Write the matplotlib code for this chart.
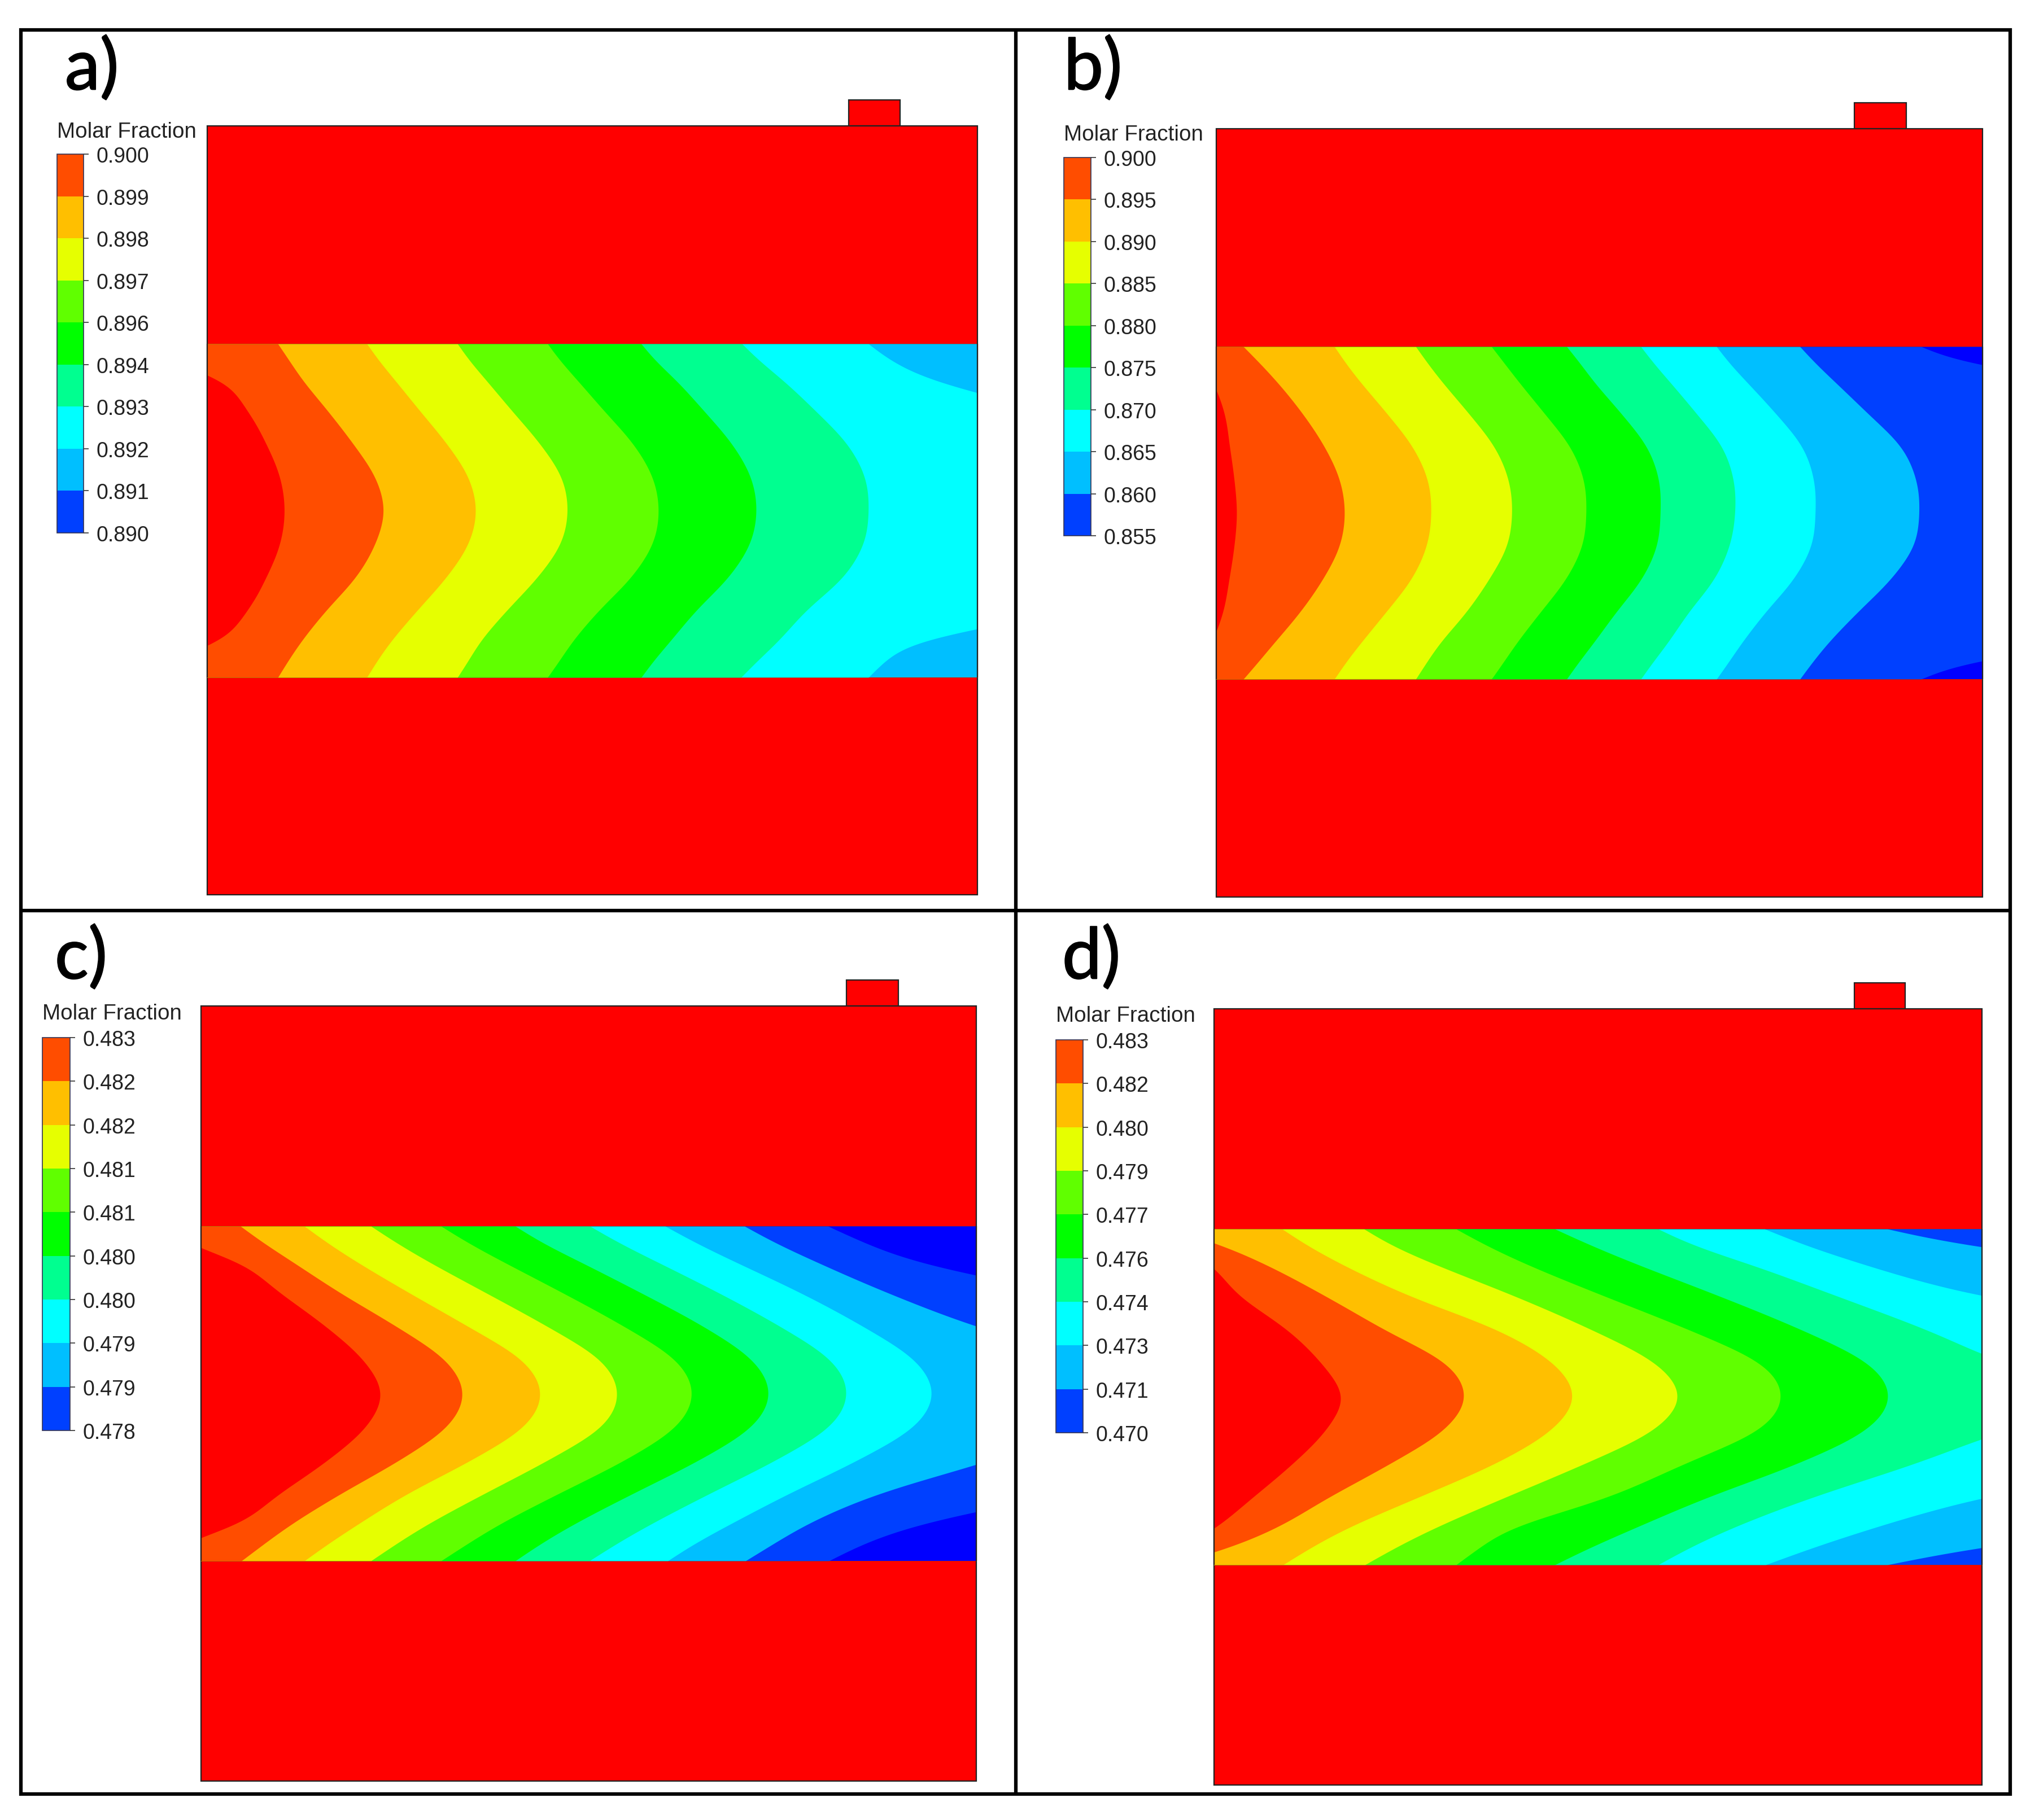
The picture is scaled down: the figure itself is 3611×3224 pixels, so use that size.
import numpy as np
import matplotlib
matplotlib.use('Agg')
import matplotlib.pyplot as plt
import matplotlib.patheffects as pe
from matplotlib.patches import Rectangle

plt.rcParams['font.family'] = ['Liberation Sans', 'DejaVu Sans']

# colores de las bandas, de mayor a menor fraccion molar
RED = '#FF0000'
BANDS = ['#FF4D00', '#FFBF00', '#E6FF00', '#60FF00', '#00FF00',
         '#00FF90', '#00FFFF', '#00BFFF', '#0040FF', '#0000FF']

# etiquetas de las barras de color
TICKS_A = ['0.900', '0.899', '0.898', '0.897', '0.896', '0.894', '0.893', '0.892', '0.891', '0.890']
TICKS_B = ['0.900', '0.895', '0.890', '0.885', '0.880', '0.875', '0.870', '0.865', '0.860', '0.855']
TICKS_C = ['0.483', '0.482', '0.482', '0.481', '0.481', '0.480', '0.480', '0.479', '0.479', '0.478']
TICKS_D = ['0.483', '0.482', '0.480', '0.479', '0.477', '0.476', '0.474', '0.473', '0.471', '0.470']

# isolineas: x de cada frontera en cada estacion y
Y_A = [47, 119, 192, 337, 481, 626, 771, 916, 1061, 1205, 1350, 1423, 1495]
EDGE_A = (30, 1535)
CURVES_A = [
    [-60, -40, 45, 108, 145, 172, 181, 172, 145, 108, 42, -40, -60],
    [168, 190, 212, 265, 315, 358, 375, 358, 320, 262, 210, 188, 168],
    [342, 365, 392, 445, 498, 540, 555, 540, 497, 440, 385, 362, 342],
    [519, 542, 570, 625, 680, 722, 734, 720, 675, 615, 560, 540, 519],
    [695, 719, 748, 805, 862, 900, 912, 900, 858, 795, 740, 718, 695],
    [878, 905, 940, 1000, 1055, 1092, 1103, 1090, 1048, 985, 930, 902, 878],
    [1075, 1108, 1148, 1218, 1280, 1315, 1322, 1312, 1272, 1200, 1140, 1105, 1073],
    [1322, 1365, 1430, 1660, 1800, 1800, 1800, 1800, 1800, 1700, 1405, 1355, 1322],
]

Y_B = [58, 130, 202, 347, 491, 635, 780, 924, 1069, 1213, 1358, 1430, 1502]
EDGE_B = (27, 1525)
CURVES_B = [
    [-30, 0, 18, 43, 53, 62, 67, 62, 52, 40, 15, 0, -30],
    [80, 112, 142, 195, 238, 268, 278, 268, 235, 190, 135, 108, 80],
    [258, 280, 305, 360, 410, 440, 447, 438, 408, 358, 305, 280, 258],
    [417, 440, 465, 520, 570, 598, 605, 595, 560, 515, 460, 438, 417],
    [565, 590, 615, 668, 718, 745, 750, 742, 710, 660, 610, 588, 565],
    [712, 738, 762, 818, 868, 892, 895, 888, 858, 808, 760, 735, 712],
    [857, 882, 910, 965, 1015, 1038, 1041, 1030, 1000, 950, 905, 880, 857],
    [1005, 1030, 1060, 1120, 1172, 1195, 1198, 1190, 1155, 1100, 1050, 1028, 1005],
    [1168, 1198, 1232, 1300, 1365, 1395, 1401, 1390, 1345, 1280, 1218, 1192, 1168],
    [1405, 1490, 1700, 1900, 1900, 1900, 1900, 1900, 1900, 1900, 1700, 1490, 1405],
]

Y_C = [55, 128, 200, 345, 491, 636, 782, 927, 1072, 1218, 1363, 1436, 1508]
EDGE_C = (18, 1533)
CURVES_C = [
    [-60, -10, 80, 172, 262, 335, 370, 340, 265, 170, 75, -20, -60],
    [95, 140, 190, 290, 400, 495, 530, 498, 405, 290, 185, 140, 97],
    [220, 265, 315, 425, 540, 645, 682, 648, 545, 420, 315, 265, 220],
    [350, 400, 455, 575, 695, 798, 832, 800, 695, 570, 450, 398, 350],
    [487, 540, 600, 725, 845, 945, 978, 945, 845, 715, 590, 537, 487],
    [632, 685, 750, 878, 1000, 1095, 1128, 1093, 990, 860, 735, 680, 632],
    [778, 835, 900, 1030, 1150, 1248, 1280, 1245, 1140, 1010, 885, 828, 777],
    [925, 985, 1052, 1190, 1312, 1412, 1447, 1410, 1300, 1165, 1040, 980, 930],
    [1080, 1140, 1210, 1360, 1533, 1750, 1900, 1750, 1560, 1340, 1190, 1135, 1082],
    [1243, 1315, 1400, 1700, 2000, 2000, 2000, 2000, 2000, 1700, 1400, 1310, 1245],
]

Y_D = [66, 139, 212, 358, 504, 650, 796, 941, 1087, 1233, 1379, 1452, 1525]
EDGE_D = (22, 1523)
CURVES_D = [
    [-80, -40, 10, 72, 165, 232, 272, 240, 175, 97, 15, -40, -80],
    [-60, 40, 115, 240, 355, 475, 512, 470, 365, 245, 130, 50, -60],
    [155, 205, 265, 405, 575, 685, 724, 680, 570, 420, 270, 210, 157],
    [315, 370, 445, 610, 760, 885, 930, 880, 745, 590, 440, 375, 317],
    [495, 555, 625, 785, 950, 1090, 1131, 1085, 940, 790, 590, 540, 495],
    [688, 760, 840, 1010, 1170, 1300, 1341, 1295, 1160, 985, 830, 755, 688],
    [890, 960, 1060, 1240, 1415, 1570, 1800, 1570, 1390, 1190, 1020, 950, 890],
    [1098, 1180, 1280, 1520, 1900, 1900, 1900, 1900, 1850, 1523, 1290, 1190, 1100],
    [1338, 1490, 1750, 1900, 1900, 1900, 1900, 1900, 1900, 1900, 1750, 1505, 1338],
]

# geometria de cada panel en pixeles de la figura
PANELS = [
    dict(name='a)', name_x=115, name_y=122, ticks=TICKS_A, ys=Y_A, edge=EDGE_A, curves=CURVES_A,
         first=0, dom=(367, 223, 1731, 1585), chan=(609, 1200), tab=(1503, 177, 1594),
         bar=(101, 148, 273, 944), title_y=234),
    dict(name='b)', name_x=1884, name_y=122, ticks=TICKS_B, ys=Y_B, edge=EDGE_B, curves=CURVES_B,
         first=0, dom=(2154, 228, 3511, 1589), chan=(614, 1203), tab=(3284, 182, 3376),
         bar=(1884, 1932, 279, 949), title_y=239),
    dict(name='c)', name_x=97, name_y=1697, ticks=TICKS_C, ys=Y_C, edge=EDGE_C, curves=CURVES_C,
         first=0, dom=(356, 1782, 1729, 3155), chan=(2172, 2765), tab=(1499, 1736, 1591),
         bar=(75, 124, 1838, 2534), title_y=1796),
    dict(name='d)', name_x=1881, name_y=1697, ticks=TICKS_D, ys=Y_D, edge=EDGE_D, curves=CURVES_D,
         first=1, dom=(2150, 1787, 3510, 3162), chan=(2177, 2772), tab=(3284, 1741, 3374),
         bar=(1870, 1918, 1842, 2538), title_y=1800),
]


def suavizar(ys, xs, n=600, ventana=81):
    # hermite entre estaciones y luego una ventana hanning para redondear
    ys = np.asarray(ys, float)
    xs = np.asarray(xs, float)
    m = np.gradient(xs, ys)
    sy = np.linspace(ys[0], ys[-1], n)
    i = np.clip(np.searchsorted(ys, sy) - 1, 0, len(ys) - 2)
    h = ys[i + 1] - ys[i]
    t = (sy - ys[i]) / h
    sx = ((2*t**3 - 3*t**2 + 1) * xs[i] + (t**3 - 2*t**2 + t) * h * m[i]
          + (-2*t**3 + 3*t**2) * xs[i + 1] + (t**3 - t**2) * h * m[i + 1])
    w = np.hanning(ventana)
    w = w / w.sum()
    ext = np.pad(sx, ventana // 2, mode='reflect', reflect_type='odd')
    return sy, np.convolve(ext, w, mode='valid')


fig = plt.figure(figsize=(36.11, 32.24), dpi=100)
ax = fig.add_axes([0, 0, 1, 1])
ax.set_xlim(0, 3611)
ax.set_ylim(3224, 0)
ax.axis('off')

EDGE_COLOR = '#222222'

for p in PANELS:
    x0, y0, x1, y1 = p['dom']
    ch0, ch1 = p['chan']
    tx0, ty0, tx1 = p['tab']

    # dominio rojo y la pestana de arriba
    ax.add_patch(Rectangle((tx0, ty0), tx1 - tx0, y0 - ty0, fc=RED, ec=EDGE_COLOR, lw=1.6, zorder=1))
    ax.add_patch(Rectangle((x0, y0), x1 - x0, y1 - y0, fc=RED, ec=EDGE_COLOR, lw=1.6, zorder=2))

    # canal: se pinta de derecha a izquierda, cada banda tapa a la siguiente
    clip = Rectangle((x0, ch0), x1 - x0, ch1 - ch0, transform=ax.transData)
    if p['first'] == 1:
        colores = [RED] + BANDS[:len(p['curves'])]
    else:
        colores = [RED] + BANDS
    n = len(p['curves'])
    e0, e1 = p['edge']
    ys = np.asarray(p['ys'], float)
    vy = ch0 + (ys - ys[0]) / (ys[-1] - ys[0]) * (ch1 - ch0)
    ax.fill_betweenx([ch0, ch1], x0, x1, color=colores[n], lw=0, zorder=3)
    for k in range(n - 1, -1, -1):
        sy, sx = suavizar(vy, p['curves'][k])
        px = x0 + (sx - e0) / (e1 - e0) * (x1 - x0)
        poly = ax.fill_betweenx(sy, x0 - 200, px, color=colores[k], lw=0, zorder=3)
        poly.set_clip_path(clip)

    # lineas finas del borde del canal
    ax.hlines([ch0, ch1], x0, x1, color='#884400', lw=0.6, alpha=0.5, zorder=4)
    ax.vlines([x0, x1], ch0, ch1, color=EDGE_COLOR, lw=1.6, zorder=4)

    # barra de color
    bx0, bx1, by0, by1 = p['bar']
    nb = len(p['ticks']) - 1
    alto = (by1 - by0) / nb
    pos = by0 + alto * np.arange(nb + 1)
    ax.barh(pos[:-1] + alto / 2, bx1 - bx0, height=alto, left=bx0, color=BANDS[:nb], lw=0, zorder=3)
    ax.add_patch(Rectangle((bx0, by0), bx1 - bx0, by1 - by0, fc='none', ec='#333355', lw=1.2, zorder=4))
    ax.hlines(pos, bx1, bx1 + 9, color='#333333', lw=1.2, zorder=4)
    for yy, lab in zip(pos, p['ticks']):
        ax.text(bx1 + 23, yy + 5, lab, fontsize=27, color='#222222', ha='left', va='center')
    ax.text(bx0, p['title_y'], 'Molar Fraction', fontsize=27.8, color='#222222', ha='left', va='center')

    ax.text(p['name_x'], p['name_y'], p['name'], fontsize=90, family=['Lato', 'DejaVu Sans'],
            color='black', ha='left', va='center',
            path_effects=[pe.withStroke(linewidth=1.5, foreground='black')])

# marco negro de los cuatro paneles
ax.add_patch(Rectangle((37, 53), 3523, 3125, fc='none', ec='black', lw=4.5, zorder=6))
ax.vlines(1799, 53, 3178, color='black', lw=4.5, zorder=6)
ax.hlines(1613, 37, 3560, color='black', lw=4.5, zorder=6)

fig.savefig('out.png', dpi=100, facecolor='white')
plt.close(fig)
